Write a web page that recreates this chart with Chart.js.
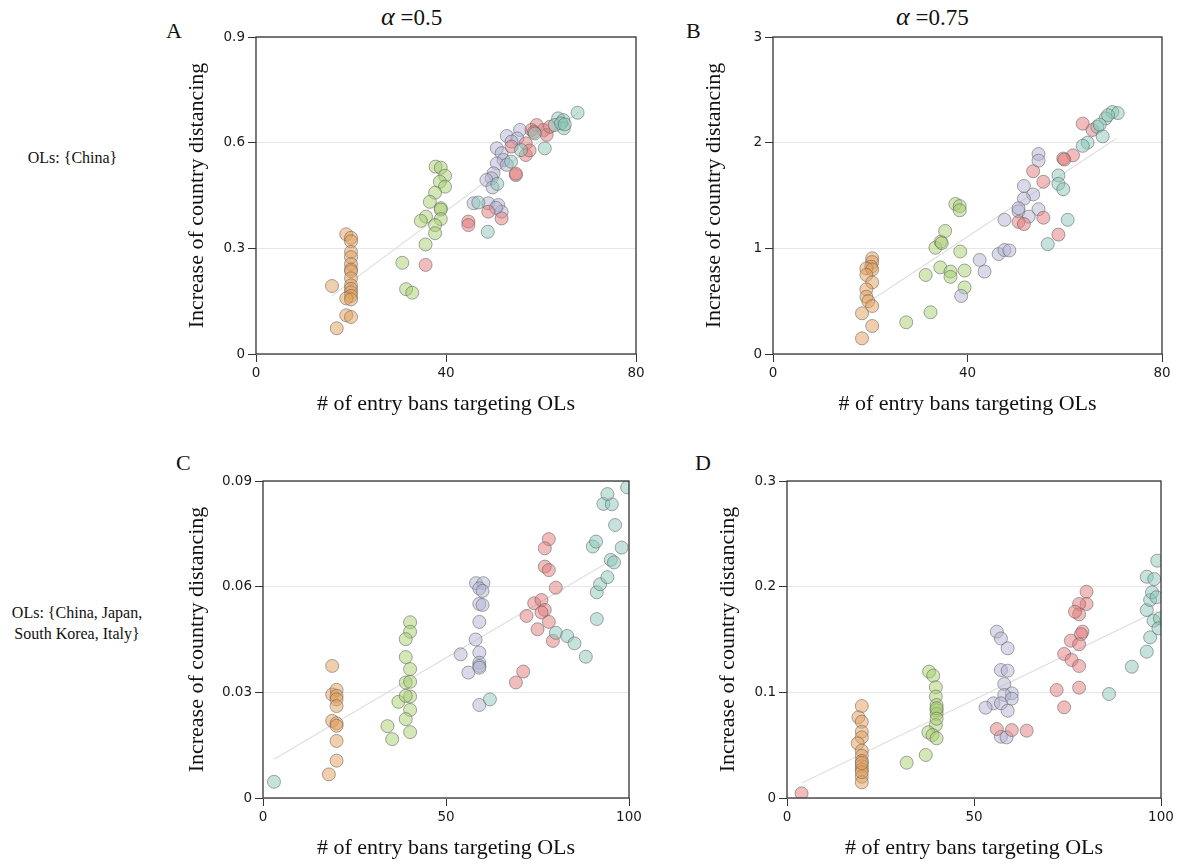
<!DOCTYPE html>
<html lang="en">
<head>
    <meta charset="UTF-8">
    <title>Country distancing vs entry bans</title>
    <style>
        body {
            margin: 0;
            width: 1182px;
            height: 864px;
            background: #fff;
            position: relative;
            overflow: hidden;
            font-family: "Liberation Serif", "Times New Roman", serif;
            color: #111;
        }
        canvas { position: absolute; }
        .txt {
            position: absolute;
            line-height: 1;
            white-space: nowrap;
        }
        .letter { font-size: 22px; }
        .alpha { font-size: 23px; }
        .alpha i { font-size: 26px; }
        .row { font-size: 16px; text-align: center; }
    </style>
</head>
<body>
    <div class="txt alpha" style="left:381px; top:4px;"><i>α</i>&nbsp;=0.5</div>
    <div class="txt alpha" style="left:896px; top:4px;"><i>α</i>&nbsp;=0.75</div>
    <div class="txt letter" style="left:166px; top:20px;">A</div>
    <div class="txt letter" style="left:686px; top:20px;">B</div>
    <div class="txt letter" style="left:176px; top:452px;">C</div>
    <div class="txt letter" style="left:695px; top:452px;">D</div>
    <div class="txt row" style="left:0; width:145px; top:150px;">OLs: {China}</div>
    <div class="txt row" style="left:0; width:154px; top:602px; line-height:21px;">OLs: {China, Japan,<br>South Korea, Italy}</div>

    <canvas id="panelA" width="470" height="420" style="left:180px; top:0;"></canvas>
    <canvas id="panelB" width="480" height="420" style="left:697px; top:0;"></canvas>
    <canvas id="panelC" width="470" height="424" style="left:180px; top:440px;"></canvas>
    <canvas id="panelD" width="466" height="424" style="left:711px; top:440px;"></canvas>

    <script src="https://cdn.jsdelivr.net/npm/chart.js"></script>
    <script>
        // tick values
        const xTicksTop = [0, 40, 80];
        const xTicksBottom = [0, 50, 100];
        const yTicksA = [0, 0.3, 0.6, 0.9];
        const yTicksB = [0, 1, 2, 3];
        const yTicksC = [0, 0.03, 0.06, 0.09];
        const yTicksD = [0, 0.1, 0.2, 0.3];

        // panel A: OLs {China}, alpha = 0.5  -- [entry bans, increase]
        const aOrange = [[16,0.193],[19,0.34],[20,0.33],[20,0.32],[20,0.29],[20,0.275],[20,0.255],[20,0.24],[20,0.235],[20,0.215],[20,0.195],[20,0.185],[20,0.175],[20,0.165],[19,0.158],[20,0.155],[19,0.11],[20,0.105],[17,0.073]];
        const aGreen = [[37.8,0.532],[38.9,0.529],[39.8,0.506],[38.7,0.489],[39.8,0.475],[37.7,0.458],[36.6,0.432],[38.9,0.414],[38.9,0.41],[35.8,0.39],[34.7,0.378],[38.9,0.383],[37.7,0.366],[37.7,0.343],[35.7,0.311],[30.8,0.259],[31.6,0.184],[32.9,0.174]];
        const aPurple = [[52.8,0.619],[55.6,0.636],[55,0.612],[53.8,0.603],[50.7,0.584],[51.7,0.57],[52.1,0.551],[50.7,0.541],[52.8,0.537],[50,0.513],[49.6,0.499],[48.5,0.494],[49.8,0.473],[45.8,0.428],[48.9,0.428],[51,0.423],[51.7,0.404],[50.5,0.415]];
        const aRed = [[35.7,0.253],[59.1,0.65],[58,0.636],[60.5,0.636],[61.2,0.622],[61.9,0.645],[56.8,0.598],[53.8,0.589],[56.8,0.565],[57.6,0.578],[54.7,0.508],[54.7,0.512],[48.9,0.404],[51.7,0.385],[44.7,0.376],[44.7,0.366],[58.5,0.63]];
        const aTeal = [[67.7,0.685],[63.6,0.669],[64.7,0.664],[64.8,0.641],[62.9,0.65],[58.7,0.626],[60.8,0.584],[55.8,0.579],[53.7,0.546],[50.8,0.483],[46.8,0.43],[48.8,0.347],[64.2,0.655],[65,0.652]];
        const aTrend = [[16,0.165],[68,0.687]];

        // panel B: OLs {China}, alpha = 0.75
        const bOrange = [[20.4,0.906],[20.4,0.87],[20.2,0.826],[19.2,0.81],[20.4,0.8],[19.2,0.748],[20.4,0.678],[19.2,0.612],[19.2,0.542],[19.6,0.5],[20.4,0.454],[18.3,0.385],[20.4,0.265],[18.3,0.148]];
        const bGreen = [[27.4,0.3],[32.4,0.395],[31.4,0.748],[34.4,0.82],[36.5,0.78],[36.5,0.73],[33.4,1.006],[34.5,1.063],[34.7,1.05],[35.4,1.164],[37.5,1.42],[38.4,1.40],[38.4,1.36],[38.5,0.97],[39.4,0.79],[39.4,0.63]];
        const bPurple = [[54.6,1.893],[54.6,1.83],[51.6,1.59],[53.5,1.51],[51.6,1.47],[50.5,1.35],[54.6,1.37],[52.6,1.30],[47.6,1.27],[46.4,0.946],[47.6,0.984],[48.6,0.98],[42.5,0.89],[43.5,0.78],[38.7,0.55],[50.5,1.38]];
        const bRed = [[63.7,2.18],[65.7,2.12],[61.7,1.88],[59.7,1.85],[59.9,1.84],[53.5,1.73],[55.6,1.63],[50.5,1.25],[51.6,1.23],[55.6,1.29],[58.7,1.13]];
        const bTeal = [[69.8,2.29],[70.9,2.28],[68.4,2.23],[66.7,2.15],[67.8,2.06],[64.7,2.0],[63.7,1.97],[58.7,1.69],[58.7,1.61],[59.7,1.56],[60.6,1.27],[56.5,1.04],[67.2,2.17],[68.9,2.26]];
        const bTrend = [[20.9,0.53],[70.6,2.04]];

        // panel C: OLs {China, Japan, South Korea, Italy}, alpha = 0.5
        const cOrange = [[18.9,0.0375],[18.9,0.0294],[20.1,0.0307],[20.1,0.029],[20.1,0.028],[20.1,0.0261],[18.9,0.0219],[20.1,0.0212],[20.1,0.0205],[20.1,0.0162],[20.1,0.0106],[18,0.0067]];
        const cGreen = [[40.2,0.0499],[40.2,0.0472],[39,0.0451],[39,0.04],[40.2,0.0366],[39,0.0328],[40.2,0.033],[37,0.0273],[40.2,0.0288],[39,0.029],[40.2,0.025],[39,0.0224],[40.2,0.0187],[34,0.0204],[35.3,0.0167]];
        const cPurple = [[58.2,0.061],[60.2,0.061],[59.1,0.0595],[60,0.0588],[59.1,0.0551],[60,0.0548],[59.1,0.05],[58.1,0.045],[54,0.0408],[59.1,0.0413],[59.1,0.0384],[59.1,0.0375],[59.1,0.037],[56.1,0.0356],[59.1,0.0264]];
        const cRed = [[78.1,0.0735],[77,0.0709],[77,0.0657],[78.1,0.0647],[80,0.0597],[74.1,0.0553],[76.1,0.0562],[77,0.0534],[76.1,0.0527],[72,0.0517],[78.1,0.05],[75,0.0479],[79.2,0.0446],[71.1,0.0359],[69.1,0.0328]];
        const cTeal = [[3,0.0046],[62,0.028],[80,0.0469],[83.1,0.046],[85.1,0.0439],[88.2,0.0401],[91.2,0.0508],[91.2,0.0584],[92.1,0.0607],[94.1,0.0627],[95,0.0676],[95.9,0.0669],[98,0.0711],[90.1,0.0714],[91,0.0728],[96.2,0.0775],[93,0.0835],[95.3,0.0834],[94.1,0.0863],[99.5,0.0882]];
        const cTrend = [[3,0.011],[96,0.068]];

        // panel D: OLs {China, Japan, South Korea, Italy}, alpha = 0.75
        const dOrange = [[20,0.087],[19.1,0.0764],[20,0.0722],[20,0.0627],[20,0.0574],[18.9,0.0517],[20,0.0448],[20,0.04],[20,0.035],[20,0.03],[20,0.027],[20,0.0202],[20,0.0148],[20,0.0245],[20,0.033]];
        const dGreen = [[38,0.1196],[39.1,0.1158],[39.8,0.1048],[39.8,0.096],[40,0.088],[40,0.083],[40,0.0795],[39.8,0.069],[37.8,0.0622],[38.9,0.0596],[40,0.0565],[37.1,0.0407],[32,0.0334],[40,0.085],[40,0.075]];
        const dPurple = [[56.1,0.1574],[57.2,0.151],[59,0.1417],[57.2,0.1211],[59,0.1205],[58.1,0.1079],[60.1,0.099],[58.1,0.0975],[60.1,0.094],[55.2,0.0896],[57.2,0.0896],[53.1,0.0855],[59,0.0826],[57.2,0.058],[58.7,0.0574]];
        const dRed = [[3.9,0.0044],[80.1,0.1952],[80.1,0.1836],[78.1,0.1836],[78.1,0.1738],[77,0.1763],[79,0.1574],[78.6,0.155],[75.9,0.1489],[78.1,0.1455],[74.1,0.1363],[76.1,0.1306],[78.1,0.1249],[72.1,0.1022],[78.1,0.1044],[74.1,0.0858],[56.1,0.0653],[60.1,0.0643],[64.1,0.0637]];
        const dTeal = [[86.1,0.0984],[92.2,0.1243],[96.2,0.1385],[97.1,0.152],[96.2,0.1779],[98,0.1678],[99.7,0.17],[97.1,0.1874],[97.6,0.1947],[96.2,0.2094],[98.2,0.2072],[99,0.2246],[99.3,0.1606],[98.8,0.19]];
        const dTrend = [[4,0.0142],[99,0.177]];

        const fills = {
            teal: 'rgba(140, 200, 185, 0.5)',
            red: 'rgba(228, 122, 122, 0.5)',
            purple: 'rgba(180, 180, 212, 0.5)',
            green: 'rgba(168, 208, 112, 0.5)',
            orange: 'rgba(228, 160, 92, 0.5)'
        };
        const serif = "'Liberation Serif', 'Times New Roman', serif";
        const sans = "'DejaVu Sans', Verdana, sans-serif";

        // box around the plotting area
        const frame = {
            id: 'frame',
            afterDatasetsDraw(chart) {
                const { ctx, chartArea: a } = chart;
                ctx.save();
                ctx.strokeStyle = '#333';
                ctx.lineWidth = 1.3;
                ctx.strokeRect(a.left, a.top, a.right - a.left, a.bottom - a.top);
                ctx.restore();
            }
        };

        const toXY = pts => pts.map(p => ({ x: p[0], y: p[1] }));

        function drawPanel(id, groups, trend, xTicks, yTicks, pad, yWidth) {
            // first dataset is drawn on top, trend line goes last (underneath)
            const sets = [
                ['teal', groups.teal], ['red', groups.red], ['purple', groups.purple],
                ['green', groups.green], ['orange', groups.orange]
            ].map(([c, pts]) => ({
                data: toXY(pts),
                backgroundColor: fills[c],
                borderColor: 'rgba(95, 95, 95, 0.55)',
                borderWidth: 1,
                pointRadius: 6.5
            }));
            sets.push({
                data: toXY(trend),
                showLine: true,
                borderColor: '#dedede',
                borderWidth: 1.1,
                pointRadius: 0
            });

            new Chart(document.getElementById(id), {
                type: 'scatter',
                data: { datasets: sets },
                options: {
                    responsive: false,
                    animation: false,
                    events: [],
                    layout: { padding: pad },
                    plugins: { legend: { display: false }, tooltip: { enabled: false } },
                    scales: {
                        x: {
                            type: 'linear',
                            min: xTicks[0],
                            max: xTicks[xTicks.length - 1],
                            afterBuildTicks: s => { s.ticks = xTicks.map(v => ({ value: v })); },
                            afterFit: s => { s.height = 66; },
                            border: { display: false },
                            grid: { drawOnChartArea: false, tickLength: 8, tickColor: '#333' },
                            ticks: { font: { family: sans, size: 13.5 }, color: '#1a1a1a', padding: 3, maxRotation: 0, callback: v => String(v) },
                            title: {
                                display: true,
                                text: '# of entry bans targeting OLs',
                                font: { family: serif, size: 22 },
                                color: '#111',
                                padding: { top: 0, bottom: 3 }
                            }
                        },
                        y: {
                            type: 'linear',
                            min: yTicks[0],
                            max: yTicks[yTicks.length - 1],
                            afterBuildTicks: s => { s.ticks = yTicks.map(v => ({ value: v })); },
                            afterFit: s => { s.width = yWidth; },
                            border: { display: false },
                            grid: { color: '#e6e6e6', lineWidth: 1, tickLength: 8, tickColor: '#333' },
                            ticks: { font: { family: sans, size: 13.5 }, color: '#1a1a1a', padding: 3, callback: v => String(v) },
                            title: {
                                display: true,
                                text: 'Increase of country distancing',
                                font: { family: serif, size: 22 },
                                color: '#111',
                                padding: { top: 4, bottom: 0 }
                            }
                        }
                    }
                },
                plugins: [frame]
            });
        }

        drawPanel('panelA', { orange: aOrange, green: aGreen, purple: aPurple, red: aRed, teal: aTeal },
            aTrend, xTicksTop, yTicksA, { top: 37, right: 14, bottom: 0, left: 0 }, 76);
        drawPanel('panelB', { orange: bOrange, green: bGreen, purple: bPurple, red: bRed, teal: bTeal },
            bTrend, xTicksTop, yTicksB, { top: 37, right: 15, bottom: 0, left: 0 }, 76);
        drawPanel('panelC', { orange: cOrange, green: cGreen, purple: cPurple, red: cRed, teal: cTeal },
            cTrend, xTicksBottom, yTicksC, { top: 41, right: 21, bottom: 0, left: 0 }, 83);
        drawPanel('panelD', { orange: dOrange, green: dGreen, purple: dPurple, red: dRed, teal: dTeal },
            dTrend, xTicksBottom, yTicksD, { top: 41, right: 16, bottom: 0, left: 0 }, 76);
    </script>
</body>
</html>
